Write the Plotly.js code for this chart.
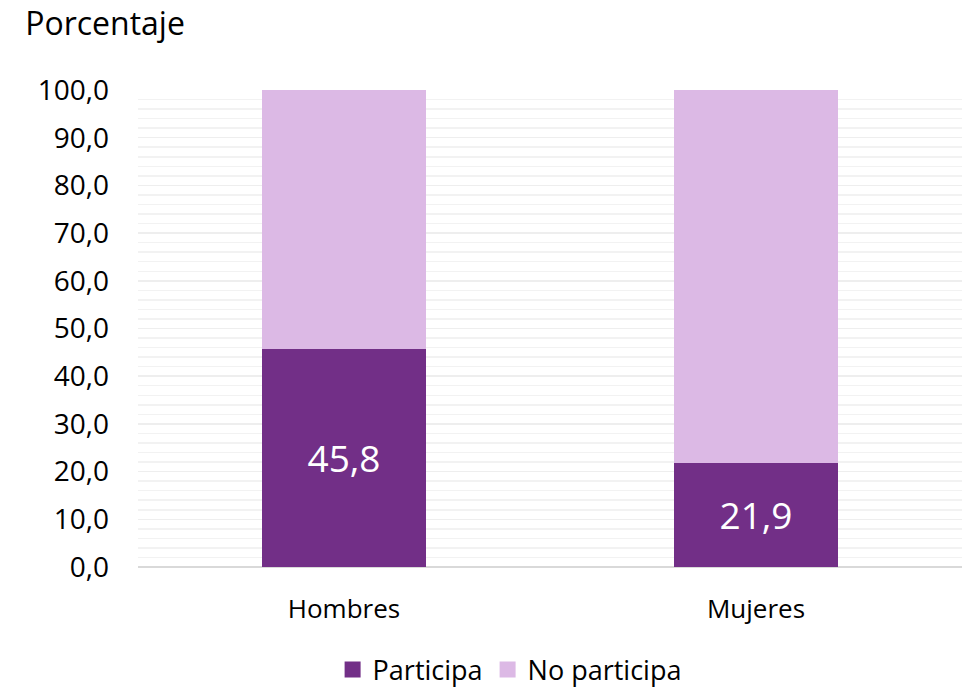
<!DOCTYPE html>
<html><head><meta charset="utf-8">
<script src="https://cdn.plot.ly/plotly-3.0.1.min.js"></script>
<style>body{margin:0;background:#fff}#c{width:967px;height:687px}</style>
</head><body><div id="c"></div>
<script>
const categories = ["Hombres", "Mujeres"];
const participa = [45.8, 21.9];
const noParticipa = [54.2, 78.1];
const seriesNames = ["Participa", "No participa"];
const colors = ['#722F87', '#DCB9E5'];
const labels = participa.map(v => v.toFixed(1).replace('.', ','));

const font = "'Open Sans', sans-serif";
const data = [
  {type:'bar', x:categories, y:participa, name:seriesNames[0], marker:{color:colors[0]},
   text:labels, textposition:'inside', insidetextanchor:'middle', showlegend:false,
   textfont:{color:'#ffffff', size:37, family:font}, hoverinfo:'none'},
  {type:'bar', x:categories, y:noParticipa, name:seriesNames[1], marker:{color:colors[1]},
   showlegend:false, hoverinfo:'none'},
  {type:'scatter', mode:'markers', x:[null], y:[null], name:seriesNames[0],
   marker:{symbol:'square', size:20, color:colors[0]}, showlegend:true},
  {type:'scatter', mode:'markers', x:[null], y:[null], name:seriesNames[1],
   marker:{symbol:'square', size:20, color:colors[1]}, showlegend:true}
];
const layout = {
  width:967, height:687, barmode:'stack', bargap:0.6,
  separators:',.',
  margin:{l:138, r:5, t:90, b:120, autoexpand:false},
  paper_bgcolor:'#fff', plot_bgcolor:'#fff',
  font:{family:font, color:'#000', size:26},
  title:{text:'Porcentaje', x:0.026, xanchor:'left', xref:'container', y:0.966, yanchor:'middle', yref:'container',
    font:{size:32, family:font, color:'#000'}},
  xaxis:{tickfont:{size:26}, showline:false, ticks:'', showgrid:false, ticklabelstandoff:24, automargin:false},
  yaxis:{range:[0,100], dtick:10, tickformat:'.1f', tickfont:{size:28},
    showgrid:true, gridcolor:'#eeeeee', gridwidth:1.5,
    zeroline:true, zerolinecolor:'#d9d9d9', zerolinewidth:2,
    ticks:'', showline:false, ticklabelstandoff:28, automargin:false,
    minor:{dtick:2, showgrid:true, gridcolor:'#f2f2f2', gridwidth:1.5}},
  legend:{orientation:'h', x:0.527, xanchor:'center', xref:'container', y:0.025, yanchor:'middle', yref:'container',
    font:{size:27, family:font}, traceorder:'normal', itemwidth:30}
};
Plotly.newPlot('c', data, layout, {displayModeBar:false, staticPlot:true});
</script></body></html>
